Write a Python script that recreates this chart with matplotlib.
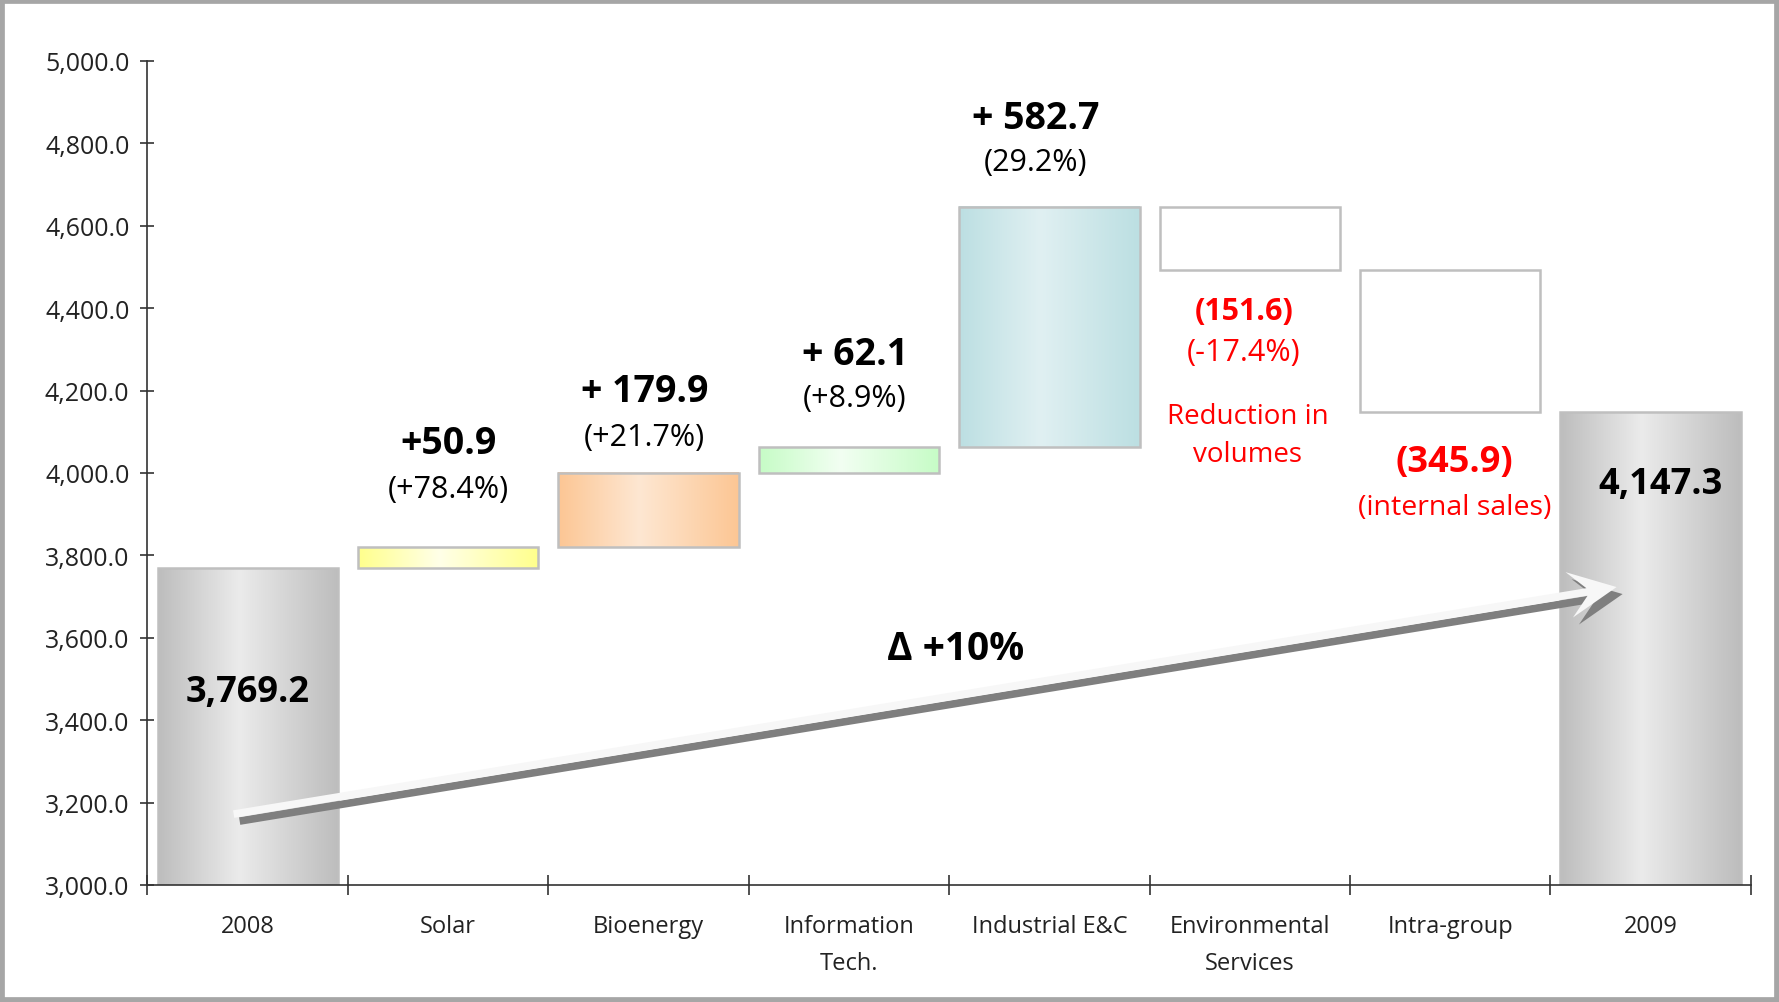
import numpy as np
import matplotlib
matplotlib.use("Agg")
import matplotlib.pyplot as plt
from matplotlib.colors import LinearSegmentedColormap
from matplotlib.patches import Rectangle, Polygon
from matplotlib.ticker import FuncFormatter

plt.rcParams['font.family'] = ['Open Sans', 'DejaVu Sans']

# --- data ---
categories = ['2008', 'Solar', 'Bioenergy', 'Information\nTech.', 'Industrial E&C',
              'Environmental\nServices', 'Intra-group', '2009']
start_value = 3769.2
changes = [50.9, 179.9, 62.1, 582.7, -151.6, -345.9]
end_value = 4147.3
change_labels = ['+50.9', '+ 179.9', '+ 62.1', '+ 582.7', '(151.6)', '(345.9)']
pct_labels = ['(+78.4%)', '(+21.7%)', '(+8.9%)', '(29.2%)', '(-17.4%)', '(internal sales)']
growth_label = '\u0394 +10%'

# --- styling / layout ---
bar_width = 0.9
gradients = [('#bdbdbd', '#ebebeb'), ('#ffff8c', '#ffffe8'), ('#fcc694', '#fee7d2'),
             ('#c6fcc6', '#f2fff2'), ('#bcdfe2', '#e0f0f2'), ('#ffffff', '#ffffff'),
             ('#ffffff', '#ffffff'), ('#bdbdbd', '#ebebeb')]
# (x, y of value label, y of pct label) for the change columns
label_pos = [(1.0, 4073, 3961), (1.98, 4198, 4087), (3.03, 4289, 4181),
             (3.93, 4861, 4754), (4.97, 4393, 4294), (6.02, 4027, 3917)]
value_sizes = [27, 27, 27, 27, 22, 26]
pct_sizes = [22, 22, 22, 22, 22, 20.5]
red = '#ff0000'

fig = plt.figure(figsize=(17.79, 10.03), dpi=100)
ax = fig.add_axes([0.0829, 0.1167, 0.9013, 0.8216])
ax.set_xlim(-0.5, 7.5)
ax.set_ylim(3000, 5000)

levels = np.concatenate([[start_value], start_value + np.cumsum(changes)])
bottoms = [0] + [min(levels[i], levels[i + 1]) for i in range(len(changes))] + [0]
tops = [start_value] + [max(levels[i], levels[i + 1]) for i in range(len(changes))] + [end_value]

grad = np.linspace(0, 1, 256).reshape(1, -1)
for i, (b, t) in enumerate(zip(bottoms, tops)):
    x0 = i - bar_width / 2
    cmap = LinearSegmentedColormap.from_list(
        'g%d' % i, [(0, gradients[i][0]), (0.45, gradients[i][1]), (1, gradients[i][0])])
    ax.imshow(grad, extent=[x0, x0 + bar_width, b, t], aspect='auto', cmap=cmap,
              interpolation='bicubic', zorder=2)
    ax.add_patch(Rectangle((x0, b), bar_width, t - b, fill=False,
                           ec='#bfbfbf', lw=1.8, zorder=2.5))

# totals
ax.text(0, 3468, f'{start_value:,.1f}', ha='center', va='center', fontsize=26,
        fontweight='bold', zorder=5)
ax.text(7.05, 3972, f'{end_value:,.1f}', ha='center', va='center', fontsize=26,
        fontweight='bold', zorder=5)

# change labels
for i, (x, yv, yp) in enumerate(label_pos):
    c = red if changes[i] < 0 else 'black'
    ax.text(x, yv, change_labels[i], ha='center', va='center', fontsize=value_sizes[i],
            fontweight='bold', color=c, zorder=5)
    ax.text(x, yp, pct_labels[i], ha='center', va='center', fontsize=pct_sizes[i],
            color=c, zorder=5)
ax.text(4.99, 4092, 'Reduction in\nvolumes', ha='center', va='center', fontsize=20,
        color=red, linespacing=1.5, zorder=5)

# growth arrow (chevron head) with a grey shadow, built in pixel space
arrow_start = (-0.07, 3172)
arrow_end = (6.83, 3723)
p0 = ax.transData.transform(arrow_start)
p1 = ax.transData.transform(arrow_end)
u = (p1 - p0) / np.hypot(*(p1 - p0))
n = np.array([-u[1], u[0]])
hw, head_len, head_hw, notch = 3.8, 48, 23, 18


def arrow_pts(off):
    pts = [p0 + n * hw,
           p1 - u * (head_len - notch) + n * hw,
           p1 - u * head_len + n * head_hw,
           p1,
           p1 - u * head_len - n * head_hw,
           p1 - u * (head_len - notch) - n * hw,
           p0 - n * hw]
    pts = np.array(pts) + np.array(off)
    return ax.transData.inverted().transform(pts)


ax.add_patch(Polygon(arrow_pts((6, -7)), closed=True, fc='#7f7f7f', ec='none', zorder=3))
ax.add_patch(Polygon(arrow_pts((0, 0)), closed=True, fc='#f7f7f7', ec='none', zorder=3.1))
ax.text(3.53, 3575, growth_label, ha='center', va='center', fontsize=28,
        fontweight='bold', zorder=5)

# axes
ax.set_yticks(np.arange(3000, 5001, 200))
ax.yaxis.set_major_formatter(FuncFormatter(lambda v, p: f'{v:,.1f}'))
ax.tick_params(axis='y', length=10, direction='inout', width=1.2, pad=8,
               labelsize=18, labelcolor='#222222', color='#333333')
ax.set_xticks(range(len(categories)))
ax.set_xticklabels(categories, linespacing=1.7)
ax.tick_params(axis='x', which='major', length=0, pad=21, labelsize=17, labelcolor='#222222')
ax.set_xticks(np.arange(-0.5, len(categories), 1), minor=True)
ax.tick_params(axis='x', which='minor', length=14, direction='inout', width=1.2, color='#333333')
for s in ['top', 'right']:
    ax.spines[s].set_visible(False)
for s in ['left', 'bottom']:
    ax.spines[s].set_color('#333333')
    ax.spines[s].set_linewidth(1.2)

fig.patches.append(Rectangle((0, 0), 1, 1, transform=fig.transFigure, fill=False,
                             ec='#a6a6a6', lw=7))

fig.savefig('out.png', dpi=100)
